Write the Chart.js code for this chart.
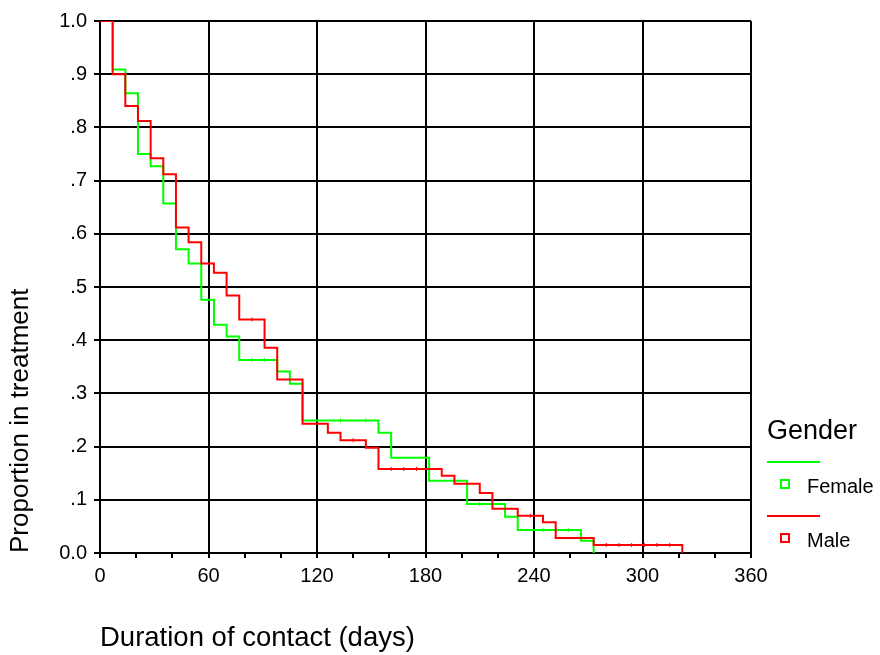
<!DOCTYPE html>
<html>
<head>
<meta charset="utf-8">
<script src="https://cdn.jsdelivr.net/npm/chart.js@4/dist/chart.umd.min.js"></script>
<style>
  body { margin: 0; background: #fff; }
  #wrap { position: relative; width: 880px; height: 655px; font-family: "Liberation Sans", Arial, sans-serif; }
  .leg { position: absolute; color: #000; white-space: nowrap; }
  .line { position: absolute; height: 2px; width: 53px; left: 767px; }
  .sq { position: absolute; width: 6px; height: 6px; border: 2px solid; left: 780px; }
</style>
</head>
<body>
<div id="wrap">
  <canvas id="myChart" width="880" height="655"></canvas>
  <div class="leg" style="left:767px; top:415px; font-size:27px;">Gender</div>
  <div class="line" style="top:461px; background:#00ff00;"></div>
  <div class="sq" style="top:479px; border-color:#00ff00;"></div>
  <div class="leg" style="left:807px; top:475px; font-size:20px;">Female</div>
  <div class="line" style="top:515px; background:#ff0000;"></div>
  <div class="sq" style="top:533px; border-color:#ff0000;"></div>
  <div class="leg" style="left:807px; top:529px; font-size:20px;">Male</div>
</div>
<script>
// Kaplan-Meier steps (days, proportion still in treatment)
let maleDays = [0, 7, 14, 21, 28, 35, 42, 49, 56, 63, 70, 77, 91, 98, 112, 126, 133, 147, 154, 189, 196, 210, 217, 231, 245, 252, 273, 322];
let maleProp = [1, 0.90, 0.840, 0.812, 0.742, 0.712, 0.612, 0.584, 0.544, 0.527, 0.484, 0.439, 0.386, 0.326, 0.243, 0.226, 0.212, 0.198, 0.158, 0.145, 0.130, 0.113, 0.083, 0.070, 0.058, 0.028, 0.015, 0];

let femaleDays = [0, 7, 14, 21, 28, 35, 42, 49, 56, 63, 70, 77, 98, 105, 112, 154, 161, 182, 203, 224, 231, 266, 273];
let femaleProp = [1, 0.909, 0.864, 0.75, 0.727, 0.657, 0.571, 0.544, 0.476, 0.429, 0.407, 0.363, 0.341, 0.318, 0.249, 0.226, 0.179, 0.136, 0.092, 0.068, 0.043, 0.023, 0];

// censored cases (small ticks on the curves)
let maleCensDays = [84, 140, 161, 168, 175, 182, 238, 280, 287, 294, 301, 308, 315];
let maleCensProp = [0.439, 0.212, 0.158, 0.158, 0.158, 0.158, 0.070, 0.015, 0.015, 0.015, 0.015, 0.015, 0.015];
let femaleCensDays = [84, 91, 133, 147, 210, 245, 259];
let femaleCensProp = [0.363, 0.363, 0.249, 0.249, 0.092, 0.043, 0.043];

let xMin = 0, xMax = 360, xMinorStep = 20, xMajorStep = 60;
let yMin = 0, yMax = 1, yStep = 0.1;

function toPoints(xs, ys) {
  return xs.map(function (x, i) { return { x: x, y: ys[i] }; });
}

let font = "'Liberation Sans', Arial, sans-serif";

window.onload = function () {
  let ctx = document.getElementById('myChart').getContext('2d');

  window.myChart = new Chart(ctx, {
    type: 'line',
    data: {
      datasets: [{
        label: 'Male',
        data: toPoints(maleDays, maleProp),
        borderColor: '#ff0000',
        borderWidth: 2,
        stepped: true,
        pointRadius: 0,
        fill: false
      }, {
        label: 'Female',
        data: toPoints(femaleDays, femaleProp),
        borderColor: '#00ff00',
        borderWidth: 2,
        stepped: true,
        pointRadius: 0,
        fill: false
      }, {
        label: 'Male censored',
        type: 'scatter',
        data: toPoints(maleCensDays, maleCensProp),
        pointStyle: 'line',
        rotation: 90,
        radius: 2,
        borderColor: '#ff0000',
        borderWidth: 1
      }, {
        label: 'Female censored',
        type: 'scatter',
        data: toPoints(femaleCensDays, femaleCensProp),
        pointStyle: 'line',
        rotation: 90,
        radius: 2,
        borderColor: '#00ff00',
        borderWidth: 1
      }]
    },
    options: {
      responsive: false,
      animation: false,
      layout: { padding: { top: 21, right: 129, bottom: 0, left: 0 } },
      plugins: { legend: { display: false }, tooltip: { enabled: false } },
      scales: {
        x: {
          type: 'linear',
          min: xMin,
          max: xMax,
          afterFit: function (scale) { scale.height = 102; },
          ticks: {
            stepSize: xMinorStep,
            autoSkip: false,
            maxRotation: 0,
            color: '#000',
            padding: 6,
            font: { family: font, size: 20 },
            callback: function (v) { return v % xMajorStep === 0 ? String(v) : ''; }
          },
          grid: {
            color: function (c) { return c.tick && c.tick.value % xMajorStep === 0 ? '#000' : 'rgba(0,0,0,0)'; },
            tickColor: '#000',
            lineWidth: 2,
            tickLength: 5
          },
          border: { color: '#000', width: 2 },
          title: {
            display: true,
            text: 'Duration of contact (days)',
            align: 'start',
            color: '#000',
            padding: { top: 0, bottom: 0 },
            font: { family: font, size: 27.5 }
          }
        },
        y: {
          min: yMin,
          max: yMax,
          afterFit: function (scale) { scale.width = 100; },
          ticks: {
            stepSize: yStep,
            color: '#000',
            padding: 7,
            font: { family: font, size: 20 },
            callback: function (v) {
              let n = Math.round(v * 10);
              if (n === 0) return '0.0';
              if (n === 10) return '1.0';
              return '.' + n;
            }
          },
          grid: { color: '#000', lineWidth: 2, tickLength: 6 },
          border: { color: '#000', width: 2 },
          title: {
            display: true,
            text: 'Proportion in treatment',
            align: 'start',
            color: '#000',
            padding: { top: 5, bottom: 0 },
            font: { family: font, size: 26 }
          }
        }
      }
    }
  });
};
</script>
</body>
</html>
